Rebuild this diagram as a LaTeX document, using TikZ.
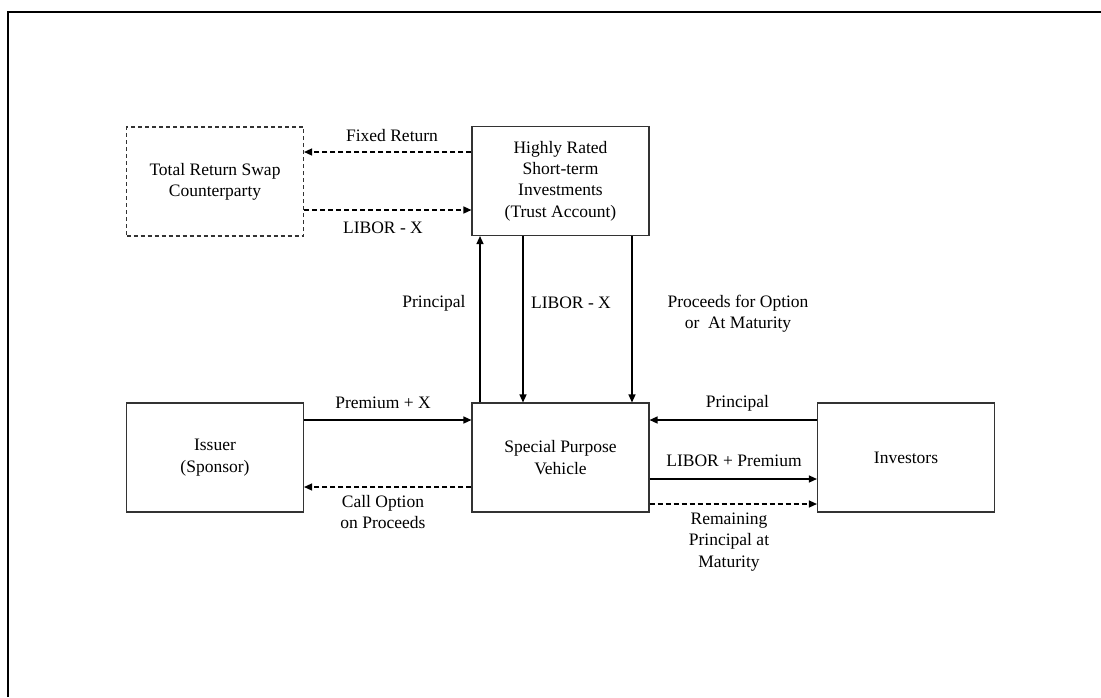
\documentclass[tikz,border=0pt]{standalone}
\usepackage{fontspec}
\setmainfont{Liberation Serif}
\usetikzlibrary{arrows.meta}

\begin{document}
\begin{tikzpicture}[x=1pt, y=-1pt,
    every node/.style={font=\fontsize{17.5}{21.3}\selectfont, align=center, inner sep=0pt},
    party/.style={draw=black!80, line width=1.1pt, minimum width=177pt, minimum height=109pt},
    flow/.style={line width=1.3pt, -{Triangle[length=8pt, width=7pt]}},
    dflow/.style={flow, dash pattern=on 5pt off 3pt}]
    \useasboundingbox (0,0) rectangle (1101,697);

    % Page frame (cut off at right and bottom)
    \draw[line width=2pt] (8,697) -- (8,12) -- (1101,12);

    % Boxes
    \node[party, dash pattern=on 4pt off 3pt] (trs) at (215,181.5) {Total Return Swap\\Counterparty};
    \node[party] (hrs) at (560.5,181) {Highly Rated\\Short-term\\Investments\\(Trust Account)};
    \node[party] (issuer) at (215,457.5) {Issuer\\(Sponsor)};
    \node[party] (spv) at (560.5,457.5) {Special Purpose\\Vehicle};
    \node[party] (inv) at (906,457.5) {Investors};

    % Swap flows
    \draw[dflow] (hrs.west |- 0,152) -- (trs.east |- 0,152);
    \node (fixed) at (392,136) {Fixed Return};
    \draw[dflow] (trs.east |- 0,210) -- (hrs.west |- 0,210);
    \node (liborx) at (383,228) {LIBOR - X};

    % Trust account flows
    \draw[flow] (spv.north -| 480,0) -- (hrs.south -| 480,0);
    \node (princ) at (434,303) {Principal};
    \draw[flow] (hrs.south -| 523,0) -- (spv.north -| 523,0);
    \node (liborx2) at (571,303) {LIBOR - X};
    \draw[flow] (hrs.south -| 632,0) -- (spv.north -| 632,0);
    \node (proceeds) at (738,314) {Proceeds for Option\\or~ At Maturity};

    % Issuer flows
    \draw[flow] (issuer.east |- 0,420) -- (spv.west |- 0,420);
    \node (prem) at (383,403) {Premium + X};
    \draw[dflow] (spv.west |- 0,487) -- (issuer.east |- 0,487);
    \node (call) at (383,512) {Call Option\\on Proceeds};

    % Investor flows
    \draw[flow] (inv.west |- 0,420) -- (spv.east |- 0,420);
    \node (princ2) at (737.5,403) {Principal};
    \draw[flow] (spv.east |- 0,479) -- (inv.west |- 0,479);
    \node (liborp) at (734,461) {LIBOR + Premium};
    \draw[dflow] (spv.east |- 0,504) -- (inv.west |- 0,504);
    \node (remain) at (729,542) {Remaining\\Principal at\\Maturity};
\end{tikzpicture}
\end{document}
